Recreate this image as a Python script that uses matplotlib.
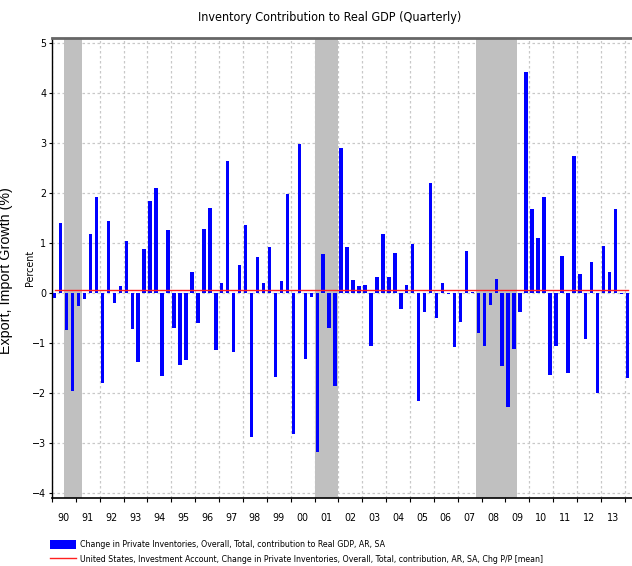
import numpy as np
import matplotlib
matplotlib.use("Agg")
import matplotlib.pyplot as plt
from matplotlib import font_manager
from matplotlib.patches import Patch
from matplotlib.lines import Line2D

# quarterly contribution of inventories to real GDP growth, 1990Q1 .. 2014Q1
start_year = 1990
contrib = [
    -0.10, 1.39, -0.75, -1.96,      # 1990
    -0.26, -0.13, 1.17, 1.91,       # 1991
    -1.80, 1.43, -0.20, 0.13,       # 1992
    1.03, -0.72, -1.38, 0.87,       # 1993
    1.83, 2.09, -1.66, 1.25,        # 1994
    -0.70, -1.44, -1.34, 0.41,      # 1995
    -0.60, 1.27, 1.69, -1.14,       # 1996
    0.19, 2.63, -1.18, 0.55,        # 1997
    1.35, -2.88, 0.71, 0.19,        # 1998
    0.91, -1.68, 0.23, 1.97,        # 1999
    -2.82, 2.97, -1.32, -0.08,      # 2000
    -3.18, 0.77, -0.70, -1.86,      # 2001
    2.89, 0.91, 0.25, 0.13,         # 2002
    0.15, -1.06, 0.31, 1.17,        # 2003
    0.31, 0.79, -0.32, 0.15,        # 2004
    0.97, -2.16, -0.38, 2.19,       # 2005
    -0.50, 0.19, -0.02, -1.08,      # 2006
    -0.58, 0.83, 0.01, -0.80,       # 2007
    -1.06, -0.24, 0.27, -1.46,      # 2008
    -2.28, -1.12, -0.38, 4.41,      # 2009
    1.67, 1.09, 1.91, -1.64,        # 2010
    -1.06, 0.73, -1.60, 2.73,       # 2011
    0.37, -0.92, 0.61, -2.00,       # 2012
    0.93, 0.41, 1.67, -0.02,        # 2013
    -1.70,                          # 2014
]
recessions = [(1990.5, 1991.25), (2001.0, 2002.0), (2007.75, 2009.5)]
year_labels = ["90", "91", "92", "93", "94", "95", "96", "97", "98", "99", "00", "01",
               "02", "03", "04", "05", "06", "07", "08", "09", "10", "11", "12", "13"]

bar_label = "Change in Private Inventories, Overall, Total, contribution to Real GDP, AR, SA"
mean_label = ("United States, Investment Account, Change in Private Inventories, Overall, Total, "
              "contribution, AR, SA, Chg P/P [mean]")

# the chart uses an Arial Narrow look; take a narrow face if one is installed
names = {(f.name, f.stretch) for f in font_manager.fontManager.ttflist}
if any(n == "Liberation Sans Narrow" for n, s in names):
    nfont = {"family": ["Liberation Sans Narrow", "DejaVu Sans"], "stretch": "normal"}
    k = 1.0
elif any(n == "DejaVu Sans" and s in ("condensed", "semi-condensed", 75, 87) for n, s in names):
    nfont = {"family": ["DejaVu Sans"], "stretch": "condensed"}
    k = 0.9
else:
    nfont = {"family": ["Liberation Sans", "DejaVu Sans"], "stretch": "normal"}
    k = 0.84

fig = plt.figure(figsize=(6.32, 5.66), dpi=100)
ax = fig.add_axes([52 / 632, 1 - 498 / 566, 1 - 52 / 632, (498 - 38) / 566])

q = np.arange(len(contrib))
x = start_year + (q + 0.45) / 4.0
for a, b in recessions:
    ax.axvspan(a, b, color="#c0c0c0", zorder=1, lw=0)
bars = ax.bar(x, contrib, width=0.58 / 4, color="#0000ff", zorder=3, lw=0)
m = np.mean(contrib)
line, = ax.plot([x[0], x[-1]], [m, m], color="#ff2020", lw=1.0, zorder=4)

ax.set_xlim(1990.0, 2014.3)
ax.set_ylim(-4.106, 5.094)
ax.set_yticks(range(-4, 6))
ax.set_xticks(np.arange(1990, 2015))
ax.set_xticks(np.arange(1990, 2014) + 0.5, minor=True)
ax.set_xticklabels([])
ax.set_xticklabels(year_labels, minor=True, fontsize=8.5 * k, **nfont)
ax.tick_params(axis="x", which="minor", length=0, pad=11)
ax.tick_params(axis="x", which="major", length=3, width=0.8, direction="out")
ax.tick_params(axis="y", length=2, width=0.8, pad=2)
for lbl in ax.get_yticklabels():
    lbl.set_fontfamily(nfont["family"])
    lbl.set_fontstretch(nfont["stretch"])
    lbl.set_fontsize(8.5 * k)

ax.grid(True, which="major", color="#c8c8c8", linestyle=(0, (2, 2)), lw=0.9, zorder=0)
ax.set_axisbelow(True)
ax.spines["right"].set_visible(False)
ax.spines["top"].set_color("#666666")
ax.spines["top"].set_linewidth(2)
ax.spines["left"].set_linewidth(1)
ax.spines["bottom"].set_linewidth(1.2)

fig.text(330 / 632, 1 - 17 / 566, "Inventory Contribution to Real GDP (Quarterly)",
         ha="center", va="center", fontsize=10 * k, **nfont)
fig.text(30 / 632, 1 - 268 / 566, "Percent", rotation=90, ha="center", va="center",
         fontsize=8.5 * k, **nfont)
fig.text(6 / 632, 1 - 271 / 566, "Export, Import Growth (%)", rotation=90, ha="center",
         va="center", fontsize=10.3, family=["Liberation Sans", "DejaVu Sans"])

handles = [Patch(facecolor="#0000ff", edgecolor="none"),
           Line2D([0], [0], color="#ff2020", lw=1.0)]
fig.legend(handles, [bar_label, mean_label], loc="upper left",
           bbox_to_anchor=(48 / 632, 1 - 538 / 566), frameon=False,
           prop={"family": nfont["family"], "stretch": nfont["stretch"], "size": 7.0 * k},
           handlelength=3.0, handleheight=1.2,
           handletextpad=0.45, labelspacing=0.6, borderpad=0.2, borderaxespad=0)

fig.savefig("out.png", dpi=100)
